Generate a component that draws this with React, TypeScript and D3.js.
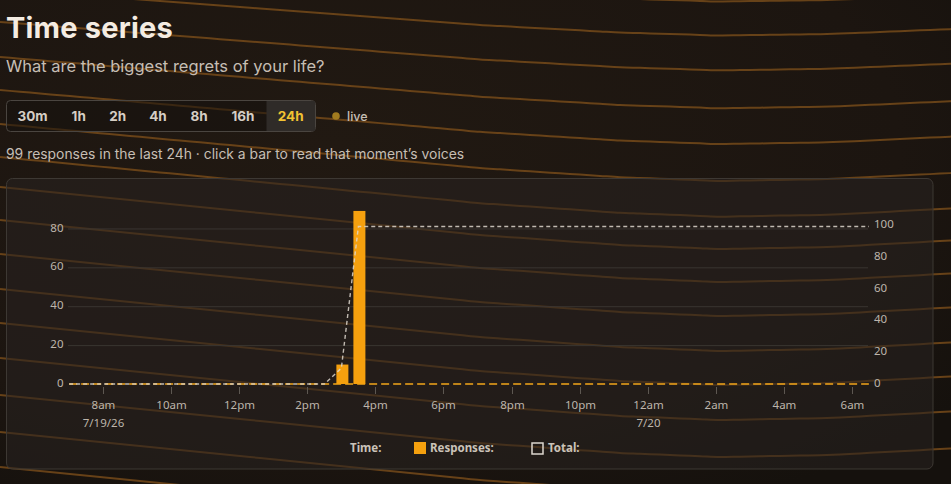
import React, { useEffect } from "react";
import * as d3 from "d3";

// ---- data ----
const WINDOW_START = new Date(2026, 6, 19, 6, 58);
const WINDOW_END = new Date(2026, 6, 20, 6, 32);
const BUCKET_MINUTES = 30;
const RESPONSE_TIMES = [new Date(2026, 6, 19, 15, 0), new Date(2026, 6, 19, 15, 30)];
const RESPONSE_COUNTS = [10, 89];
const LEFT_TICKS = [0, 20, 40, 60, 80];
const RIGHT_TICKS = [0, 20, 40, 60, 80, 100];
const LEFT_MAX = 90;
const RIGHT_MAX = 110;
const RANGE_OPTIONS = ["30m", "1h", "2h", "4h", "8h", "16h", "24h"];
const ACTIVE_RANGE = "24h";
const TOTAL_RESPONSES = 99;
const TITLE = "Time series";
const QUESTION = "What are the biggest regrets of your life?";

// decorative background wave offsets (at left edge)
const BG_OFFSETS = [-45, -11, 22, 57, 90, 124, 157, 187, 220, 254, 289, 323, 358, 395, 432, 467, 502];
const BG_SHAPE_X = [0, 140, 280, 480, 620, 720, 830, 960];
const BG_SHAPE_Y = [0, 14, 28, 48, 58, 62, 60, 53];

const W = 951;
const H = 484;
const PLOT = { left: 68, right: 870, top: 209, bottom: 384 };
const BTN_CENTERS = [32.5, 78.7, 117.7, 158, 199, 243, 290.7];

export default function App() {
  useEffect(() => {
    document.body.style.margin = "0";
    document.body.style.background = "#1c1510";
  }, []);

  const x = d3.scaleTime().domain([WINDOW_START, WINDOW_END]).range([PLOT.left, PLOT.right]);
  const yL = d3.scaleLinear().domain([0, LEFT_MAX]).range([PLOT.bottom, PLOT.top]);
  const yR = d3.scaleLinear().domain([0, RIGHT_MAX]).range([PLOT.bottom, PLOT.top]);

  const buckets = d3.timeMinute.every(BUCKET_MINUTES)!.range(WINDOW_START, WINDOW_END);
  const countAt = (t: Date) => {
    const i = RESPONSE_TIMES.findIndex((r) => r.getTime() === t.getTime());
    return i >= 0 ? RESPONSE_COUNTS[i] : 0;
  };
  const counts = buckets.map(countAt);
  const totals = d3.cumsum(counts);
  const totalPts = buckets.map((t, i) => [x(t), yR(totals[i])] as [number, number]);
  const totalPath = d3.line()(totalPts) || "";

  const xTicks = d3.timeHour.every(2)!.range(WINDOW_START, WINDOW_END);
  const hourFmt = d3.timeFormat("%-I%p");
  const dateFmtFull = d3.timeFormat("%-m/%-d/%y");
  const dateFmt = d3.timeFormat("%-m/%-d");

  const bgShape = d3.scaleLinear().domain(BG_SHAPE_X).range(BG_SHAPE_Y);
  const bgLine = d3.line<[number, number]>().curve(d3.curveMonotoneX);
  const bgXs = d3.range(0, 961, 20);
  const bgPaths = BG_OFFSETS.map((y0) => {
    const k = y0 < 185 ? 0.75 + (0.25 * Math.max(0, y0)) / 185 : 1;
    return bgLine(bgXs.map((px) => [px, y0 + k * bgShape(px)] as [number, number])) || "";
  });

  const barW = 12;
  const axisFont = "'Noto Sans', 'Open Sans', sans-serif";
  const uiFont = "Inter, 'Noto Sans', sans-serif";

  return (
    <svg width={W} height={H} style={{ position: "absolute", left: 0, top: 0, display: "block" }}>
      <defs>
        <radialGradient id="bg" cx="35%" cy="30%" r="85%">
          <stop offset="0%" stopColor="#211912" />
          <stop offset="70%" stopColor="#1c1510" />
          <stop offset="100%" stopColor="#15110d" />
        </radialGradient>
      </defs>
      <rect x={0} y={0} width={W} height={H} fill="url(#bg)" />
      <g fill="none" stroke="#704719" strokeWidth={2} opacity={0.9}>
        {bgPaths.map((d, i) => (
          <path key={i} d={d} />
        ))}
      </g>

      {/* header */}
      <text x={6} y={38} fontFamily={uiFont} fontWeight={700} fontSize={29} fill="#f4ece2" letterSpacing={0.2}>
        {TITLE}
      </text>
      <text x={6} y={72} fontFamily={uiFont} fontSize={16.5} fill="#c6beb4">
        {QUESTION}
      </text>

      {/* range selector */}
      <rect x={6.5} y={100.5} width={309} height={31} rx={4} fill="rgba(22,18,15,0.55)" stroke="#4a4540" />
      <rect x={266.5} y={101} width={48.5} height={30} fill="#2f2b28" />
      {RANGE_OPTIONS.map((r, i) => (
        <text
          key={r}
          x={BTN_CENTERS[i]}
          y={121}
          textAnchor="middle"
          fontFamily={uiFont}
          fontWeight={700}
          fontSize={13.5}
          fill={r === ACTIVE_RANGE ? "#f2c232" : "#d6cec4"}
        >
          {r}
        </text>
      ))}
      <circle cx={336} cy={116} r={3.8} fill="#a27b1f" />
      <text x={347} y={120.5} fontFamily={uiFont} fontWeight={500} fontSize={12.5} fill="#c6beb4">
        live
      </text>
      <text x={6} y={159} fontFamily={uiFont} fontSize={13.9} fill="#c6beb4">
        {`${TOTAL_RESPONSES} responses in the last ${ACTIVE_RANGE} · click a bar to read that moment’s voices`}
      </text>

      {/* chart panel */}
      <rect x={6.5} y={178.5} width={926.5} height={290.5} rx={6} fill="rgba(40,35,32,0.55)" stroke="#3d3833" />

      {/* grid */}
      <g stroke="#3a3531" strokeWidth={1}>
        {LEFT_TICKS.filter((t) => t > 0).map((t) => (
          <line key={t} x1={PLOT.left} x2={PLOT.right - 2} y1={yL(t) + 0.5} y2={yL(t) + 0.5} />
        ))}
      </g>

      {/* left axis */}
      <g fontFamily={axisFont} fontSize={11.5} fill="#bdb5ab">
        {LEFT_TICKS.map((t) => (
          <text key={t} x={63.5} y={yL(t)} textAnchor="end" dominantBaseline="middle">
            {t}
          </text>
        ))}
      </g>
      {/* right axis */}
      <g fontFamily={axisFont} fontSize={11.5} fill="#bdb5ab">
        {RIGHT_TICKS.map((t) => (
          <text key={t} x={874} y={yR(t)} textAnchor="start" dominantBaseline="middle">
            {t}
          </text>
        ))}
      </g>

      {/* x axis */}
      <g>
        {xTicks.map((t, i) => {
          const px = Math.round(x(t)) + 0.5;
          const isMidnight = t.getHours() === 0;
          return (
            <g key={t.getTime()}>
              <line x1={px} x2={px} y1={387} y2={394} stroke="#5d5751" />
              <text x={px} y={409} textAnchor="middle" fontFamily={axisFont} fontSize={11.5} fill="#bdb5ab">
                {hourFmt(t).toLowerCase()}
              </text>
              {(i === 0 || isMidnight) && (
                <text x={px} y={427} textAnchor="middle" fontFamily={axisFont} fontSize={11.5} fill="#bdb5ab">
                  {i === 0 ? dateFmtFull(t) : dateFmt(t)}
                </text>
              )}
            </g>
          );
        })}
      </g>

      {/* responses zero baseline */}
      <line
        x1={x(buckets[0])}
        x2={x(buckets[buckets.length - 1])}
        y1={yL(0)}
        y2={yL(0)}
        stroke="#f2a51a"
        strokeWidth={1.4}
        strokeDasharray="8 4"
      />

      {/* bars */}
      {buckets.map((t, i) =>
        counts[i] > 0 ? (
          <rect
            key={t.getTime()}
            x={x(t) - barW / 2 + 1}
            y={yL(counts[i])}
            width={barW}
            height={yL(0) - yL(counts[i])}
            fill="#f5a00e"
          />
        ) : null
      )}

      {/* total line */}
      <path d={totalPath} fill="none" stroke="#ddd6cd" strokeWidth={1.4} strokeDasharray="4 3" opacity={0.85} />

      {/* legend */}
      <g fontFamily={axisFont} fontWeight={700} fontSize={11.5} fill="#cbc3b9">
        <text x={350} y={452}>Time:</text>
        <rect x={414} y={442} width={12} height={12} fill="#f5a00e" />
        <text x={430} y={452}>Responses:</text>
        <rect x={532} y={443} width={11} height={11} fill="none" stroke="#dcd6ce" strokeWidth={1.5} />
        <text x={548} y={452}>Total:</text>
      </g>
    </svg>
  );
}
